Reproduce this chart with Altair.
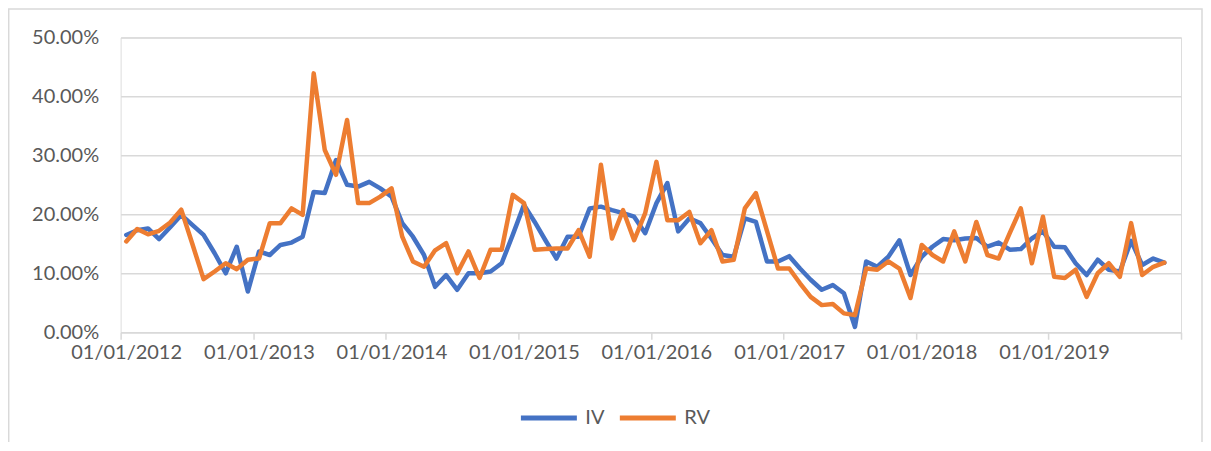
import altair as alt
import pandas as pd

# Monthly observations, Jan 2012 .. Nov 2019 (values in %)
months = pd.date_range("2012-01-01", periods=95, freq="MS").strftime("%Y-%m-%d").tolist()

iv = [16.5, 17.3, 17.6, 15.8, 17.8, 19.9, 18.2, 16.5, 13.4, 10.0, 14.5, 6.9,
      13.7, 13.1, 14.8, 15.2, 16.2, 23.8, 23.6, 29.2, 25.0, 24.7, 25.5, 24.4,
      23.0, 18.5, 16.2, 13.1, 7.7, 9.7, 7.2, 10.0, 10.0, 10.3, 11.7, 16.5,
      21.6, 18.7, 15.6, 12.5, 16.2, 16.2, 21.0, 21.3, 20.7, 20.2, 19.6, 16.8,
      21.9, 25.3, 17.1, 19.3, 18.5, 15.9, 13.1, 12.8, 19.3, 18.7, 12.0, 12.0,
      12.9, 10.8, 8.9, 7.2, 8.0, 6.6, 0.9, 12.0, 11.1, 12.8, 15.6, 9.7,
      12.8, 14.5, 15.8, 15.6, 15.9, 16.0, 14.5, 15.2, 14.0, 14.1, 15.9, 17.1,
      14.5, 14.4, 11.7, 9.7, 12.3, 10.6, 10.3, 15.5, 11.4, 12.5, 11.8]

rv = [15.4, 17.5, 16.6, 17.2, 18.6, 20.8, 15.0, 9.0, 10.3, 11.7, 10.7, 12.3,
      12.5, 18.5, 18.5, 21.0, 19.9, 43.9, 30.9, 26.7, 36.0, 21.9, 21.9, 23.0,
      24.4, 16.2, 12.0, 11.1, 13.9, 15.1, 10.0, 13.7, 9.2, 14.0, 14.0, 23.3,
      21.9, 14.0, 14.1, 14.2, 14.2, 17.3, 12.8, 28.4, 15.9, 20.7, 15.6, 20.2,
      28.9, 19.0, 19.0, 20.4, 15.1, 17.3, 12.0, 12.3, 21.0, 23.6, 17.2, 10.8,
      10.8, 8.3, 6.0, 4.6, 4.8, 3.2, 2.9, 10.8, 10.6, 12.0, 10.8, 5.8,
      14.8, 13.1, 12.0, 17.1, 12.0, 18.7, 13.1, 12.5, 16.8, 21.0, 11.7, 19.6,
      9.4, 9.2, 10.6, 6.0, 10.0, 11.7, 9.4, 18.5, 9.7, 11.1, 11.8]

series_names = ["IV", "RV"]
series_colors = ["#4472C4", "#ED7D31"]
y_ticks = [0, 0.1, 0.2, 0.3, 0.4, 0.5]
tick_years = list(range(2012, 2021))

df = pd.DataFrame({
    "date": months * 2,
    "series": ["IV"] * len(iv) + ["RV"] * len(rv),
    "value": [v / 100 for v in iv + rv],
})

FONT = "Lato"
W, H = 1061, 295
GRID = "#d9d9d9"
TXT = "#595959"

lines = alt.Chart(df).mark_line(strokeWidth=4.5, strokeJoin="round", strokeCap="round").encode(
    x=alt.X("date:T", timeUnit="utcyearmonth", bandPosition=0.5, title=None,
            scale=alt.Scale(domain=[alt.DateTime(year=2012, month=1, date=1, utc=True),
                                    alt.DateTime(year=2020, month=1, date=1, utc=True)], nice=False),
            axis=alt.Axis(values=[alt.DateTime(year=y, month=1, date=1, utc=True) for y in tick_years],
                          labelExpr="utcyear(datum.value) >= 2020 ? '' : utcFormat(datum.value, '%d/%m/%Y')",
                          grid=False, domainColor=GRID, domainWidth=1.5, tickColor=GRID, tickWidth=1.5,
                          tickSize=7, labelColor=TXT, labelFont=FONT, labelFontSize=20, labelPadding=3,
                          labelOffset=5.5, labelFlush=False, labelOverlap=False)),
    y=alt.Y("value:Q", title=None, scale=alt.Scale(domain=[0, 0.5], nice=False),
            axis=alt.Axis(values=y_ticks, format=".2%", domain=False, ticks=False, grid=True,
                          gridColor=GRID, gridWidth=1.5, labelColor=TXT, labelFont=FONT,
                          labelFontSize=20, labelPadding=22)),
    color=alt.Color("series:N", scale=alt.Scale(domain=series_names, range=series_colors),
                    legend=alt.Legend(title=None, orient="none", legendX=398, legendY=350,
                                      direction="horizontal", symbolType="stroke", symbolSize=3136,
                                      symbolStrokeWidth=5, labelFont=FONT, labelFontSize=20,
                                      labelColor=TXT, columnPadding=4, labelOffset=6)),
)

frame = alt.Chart(alt.Data(values=[{}])).mark_rect(fill=None, stroke=GRID, strokeWidth=1.5).encode(
    x=alt.value(-112), x2=alt.value(W + 21), y=alt.value(-28.5), y2=alt.value(H + 200)
)

chart = alt.layer(frame, lines).properties(
    width=W, height=H,
    autosize=alt.AutoSizeParams(type="none"),
    padding={"left": 112.7, "top": 29.3, "right": 22, "bottom": 110},
).configure_view(stroke=None).configure(background="white")

chart.save("out.html", embed_options={"renderer": "svg", "actions": False})
